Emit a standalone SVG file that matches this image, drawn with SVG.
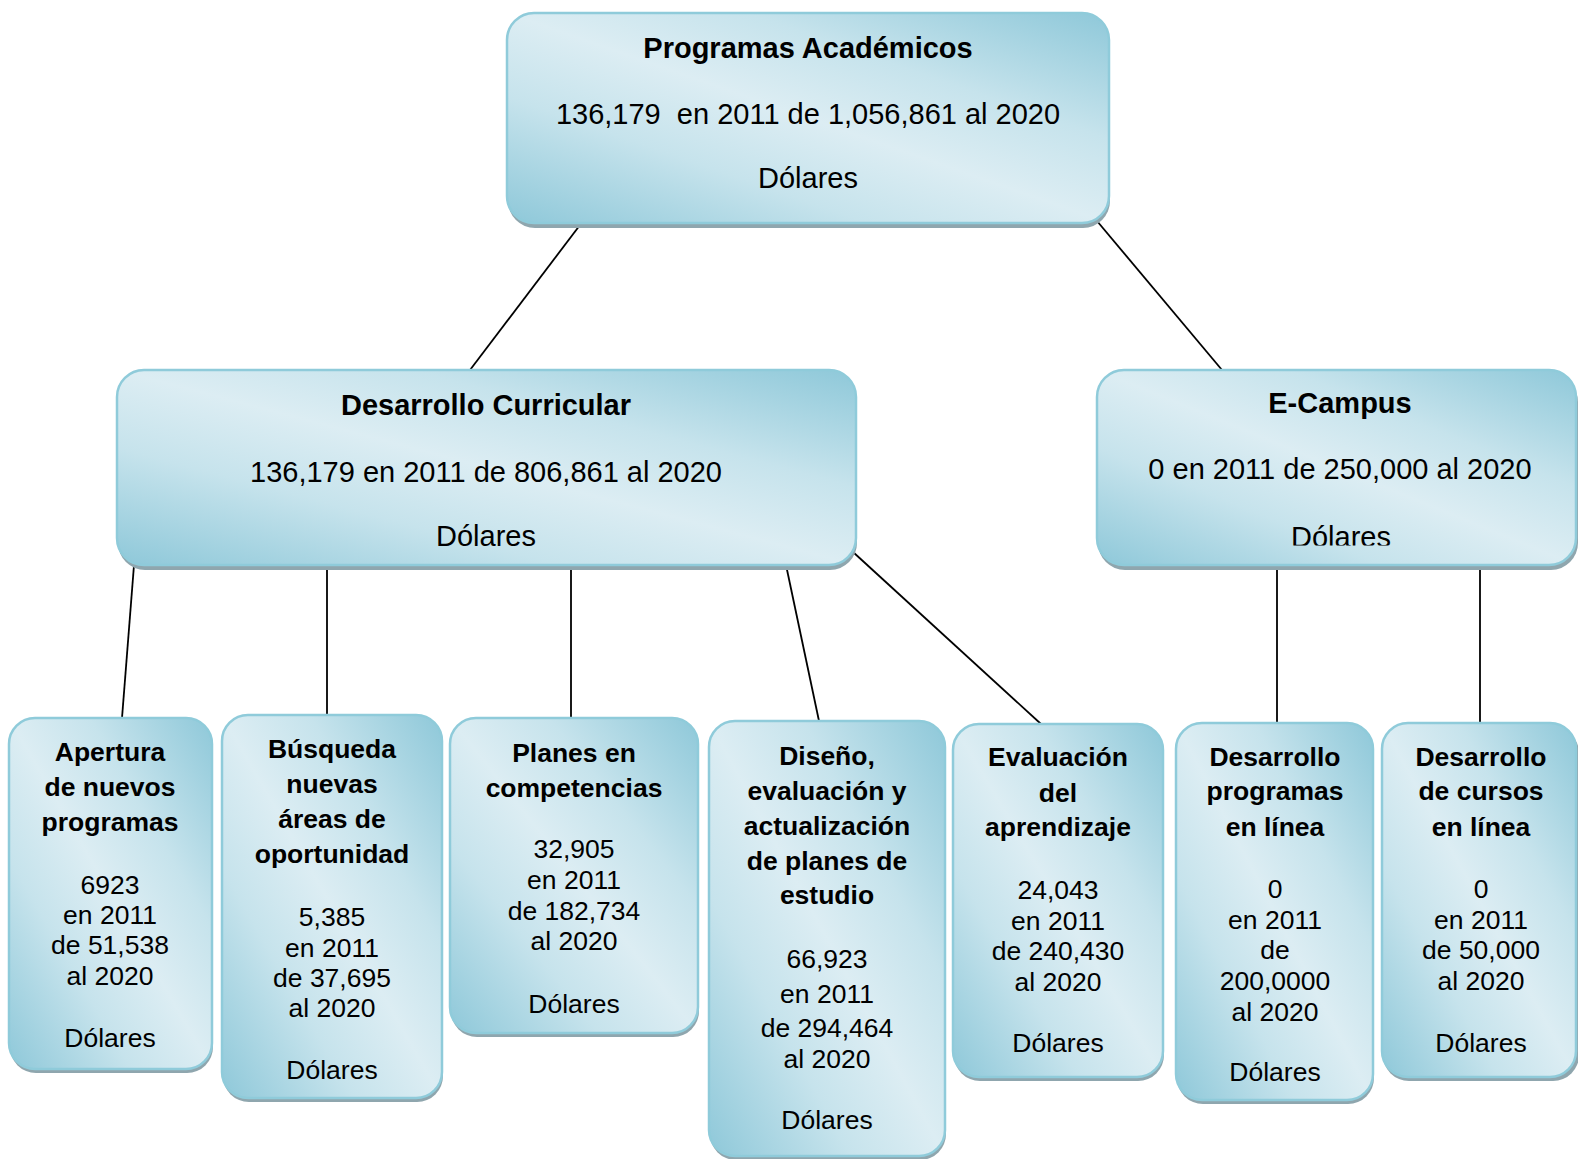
<svg xmlns="http://www.w3.org/2000/svg" width="1578" height="1159" viewBox="0 0 1578 1159">
<style>
.sh{fill:#8fa6ae}
.bx{fill:url(#g);stroke:#8fcbda;stroke-width:2.5}
.t{font-family:"Liberation Sans",Arial,sans-serif;fill:#000;text-anchor:middle}
.big{font-size:29px}
.sm{font-size:26.5px}
.b{font-weight:bold}
.cn line{stroke:#000;stroke-width:1.8}
</style>
<defs>
<linearGradient id="g" x1="0" y1="1" x2="1" y2="0">
<stop offset="0" stop-color="#8ec8d9"/>
<stop offset="0.3" stop-color="#c6e3ec"/>
<stop offset="0.5" stop-color="#dcedf3"/>
<stop offset="0.7" stop-color="#c6e3ec"/>
<stop offset="1" stop-color="#8ec8d9"/>
</linearGradient>
<clipPath id="ecclip"><rect x="1097" y="370" width="481" height="175.5"/></clipPath>
</defs>
<rect width="1578" height="1159" fill="#fff"/>
<g class="cn" id="connectors">
<line x1="580" y1="225" x2="470" y2="370"/>
<line x1="1097" y1="221" x2="1222" y2="370"/>
<line x1="134" y1="565" x2="122" y2="718"/>
<line x1="327" y1="565" x2="327" y2="715"/>
<line x1="571" y1="565" x2="571" y2="718"/>
<line x1="786" y1="565" x2="819" y2="721"/>
<line x1="853" y1="552" x2="1041" y2="724"/>
<line x1="1277" y1="565" x2="1277" y2="723"/>
<line x1="1480" y1="565" x2="1480" y2="723"/>
</g>
<g id="n-programas">
<rect class="sh" x="508" y="18" width="602" height="210" rx="27"/>
<rect class="bx" x="507" y="13" width="602" height="210" rx="27"/>
<text class="t big b" x="808" y="58">Programas Académicos</text>
<text class="t big" x="808" y="124" xml:space="preserve">136,179  en 2011 de 1,056,861 al 2020</text>
<text class="t big" x="808" y="188">Dólares</text>
</g>
<g id="n-curricular">
<rect class="sh" x="118" y="375" width="739" height="195" rx="27"/>
<rect class="bx" x="117" y="370" width="739" height="195" rx="27"/>
<text class="t big b" x="486" y="415">Desarrollo Curricular</text>
<text class="t big" x="486" y="482">136,179 en 2011 de 806,861 al 2020</text>
<text class="t big" x="486" y="546">Dólares</text>
</g>
<g id="n-ecampus">
<rect class="sh" x="1098" y="375" width="480" height="195" rx="27"/>
<rect class="bx" x="1097" y="370" width="479" height="195" rx="27"/>
<text class="t big b" x="1340" y="413">E-Campus</text>
<text class="t big" x="1340" y="479">0 en 2011 de 250,000 al 2020</text>
<text class="t big" x="1341" y="547" clip-path="url(#ecclip)">Dólares</text>
</g>
<g id="n-apertura">
<rect class="sh" x="10" y="722" width="203" height="351" rx="26"/>
<rect class="bx" x="9" y="718" width="203" height="351" rx="26"/>
<text class="t sm b" x="110" y="761">Apertura</text>
<text class="t sm b" x="110" y="796">de nuevos</text>
<text class="t sm b" x="110" y="831">programas</text>
<text class="t sm" x="110" y="894">6923</text>
<text class="t sm" x="110" y="924">en 2011</text>
<text class="t sm" x="110" y="954">de 51,538</text>
<text class="t sm" x="110" y="985">al 2020</text>
<text class="t sm" x="110" y="1047">Dólares</text>
</g>
<g id="n-busqueda">
<rect class="sh" x="223" y="719" width="220" height="383" rx="26"/>
<rect class="bx" x="222" y="715" width="220" height="383" rx="26"/>
<text class="t sm b" x="332" y="758">Búsqueda</text>
<text class="t sm b" x="332" y="793">nuevas</text>
<text class="t sm b" x="332" y="828">áreas de</text>
<text class="t sm b" x="332" y="863">oportunidad</text>
<text class="t sm" x="332" y="926">5,385</text>
<text class="t sm" x="332" y="957">en 2011</text>
<text class="t sm" x="332" y="987">de 37,695</text>
<text class="t sm" x="332" y="1017">al 2020</text>
<text class="t sm" x="332" y="1079">Dólares</text>
</g>
<g id="n-planes">
<rect class="sh" x="451" y="722" width="248" height="315" rx="26"/>
<rect class="bx" x="450" y="718" width="248" height="315" rx="26"/>
<text class="t sm b" x="574" y="762">Planes en</text>
<text class="t sm b" x="574" y="797">competencias</text>
<text class="t sm" x="574" y="858">32,905</text>
<text class="t sm" x="574" y="889">en 2011</text>
<text class="t sm" x="574" y="920">de 182,734</text>
<text class="t sm" x="574" y="950">al 2020</text>
<text class="t sm" x="574" y="1013">Dólares</text>
</g>
<g id="n-diseno">
<rect class="sh" x="710" y="725" width="236" height="435" rx="26"/>
<rect class="bx" x="709" y="721" width="236" height="435" rx="26"/>
<text class="t sm b" x="827" y="765">Diseño,</text>
<text class="t sm b" x="827" y="800">evaluación y</text>
<text class="t sm b" x="827" y="835">actualización</text>
<text class="t sm b" x="827" y="870">de planes de</text>
<text class="t sm b" x="827" y="904">estudio</text>
<text class="t sm" x="827" y="968">66,923</text>
<text class="t sm" x="827" y="1003">en 2011</text>
<text class="t sm" x="827" y="1037">de 294,464</text>
<text class="t sm" x="827" y="1068">al 2020</text>
<text class="t sm" x="827" y="1129">Dólares</text>
</g>
<g id="n-evaluacion">
<rect class="sh" x="954" y="728" width="210" height="353" rx="26"/>
<rect class="bx" x="953" y="724" width="210" height="353" rx="26"/>
<text class="t sm b" x="1058" y="766">Evaluación</text>
<text class="t sm b" x="1058" y="802">del</text>
<text class="t sm b" x="1058" y="836">aprendizaje</text>
<text class="t sm" x="1058" y="899">24,043</text>
<text class="t sm" x="1058" y="930">en 2011</text>
<text class="t sm" x="1058" y="960">de 240,430</text>
<text class="t sm" x="1058" y="991">al 2020</text>
<text class="t sm" x="1058" y="1052">Dólares</text>
</g>
<g id="n-programas-linea">
<rect class="sh" x="1177" y="727" width="197" height="377" rx="26"/>
<rect class="bx" x="1176" y="723" width="197" height="377" rx="26"/>
<text class="t sm b" x="1275" y="766">Desarrollo</text>
<text class="t sm b" x="1275" y="800">programas</text>
<text class="t sm b" x="1275" y="836">en línea</text>
<text class="t sm" x="1275" y="898">0</text>
<text class="t sm" x="1275" y="929">en 2011</text>
<text class="t sm" x="1275" y="959">de</text>
<text class="t sm" x="1275" y="990">200,0000</text>
<text class="t sm" x="1275" y="1021">al 2020</text>
<text class="t sm" x="1275" y="1081">Dólares</text>
</g>
<g id="n-cursos-linea">
<rect class="sh" x="1383" y="727" width="196" height="354" rx="26"/>
<rect class="bx" x="1382" y="723" width="194" height="354" rx="26"/>
<text class="t sm b" x="1481" y="766">Desarrollo</text>
<text class="t sm b" x="1481" y="800">de cursos</text>
<text class="t sm b" x="1481" y="836">en línea</text>
<text class="t sm" x="1481" y="898">0</text>
<text class="t sm" x="1481" y="929">en 2011</text>
<text class="t sm" x="1481" y="959">de 50,000</text>
<text class="t sm" x="1481" y="990">al 2020</text>
<text class="t sm" x="1481" y="1052">Dólares</text>
</g>
</svg>
